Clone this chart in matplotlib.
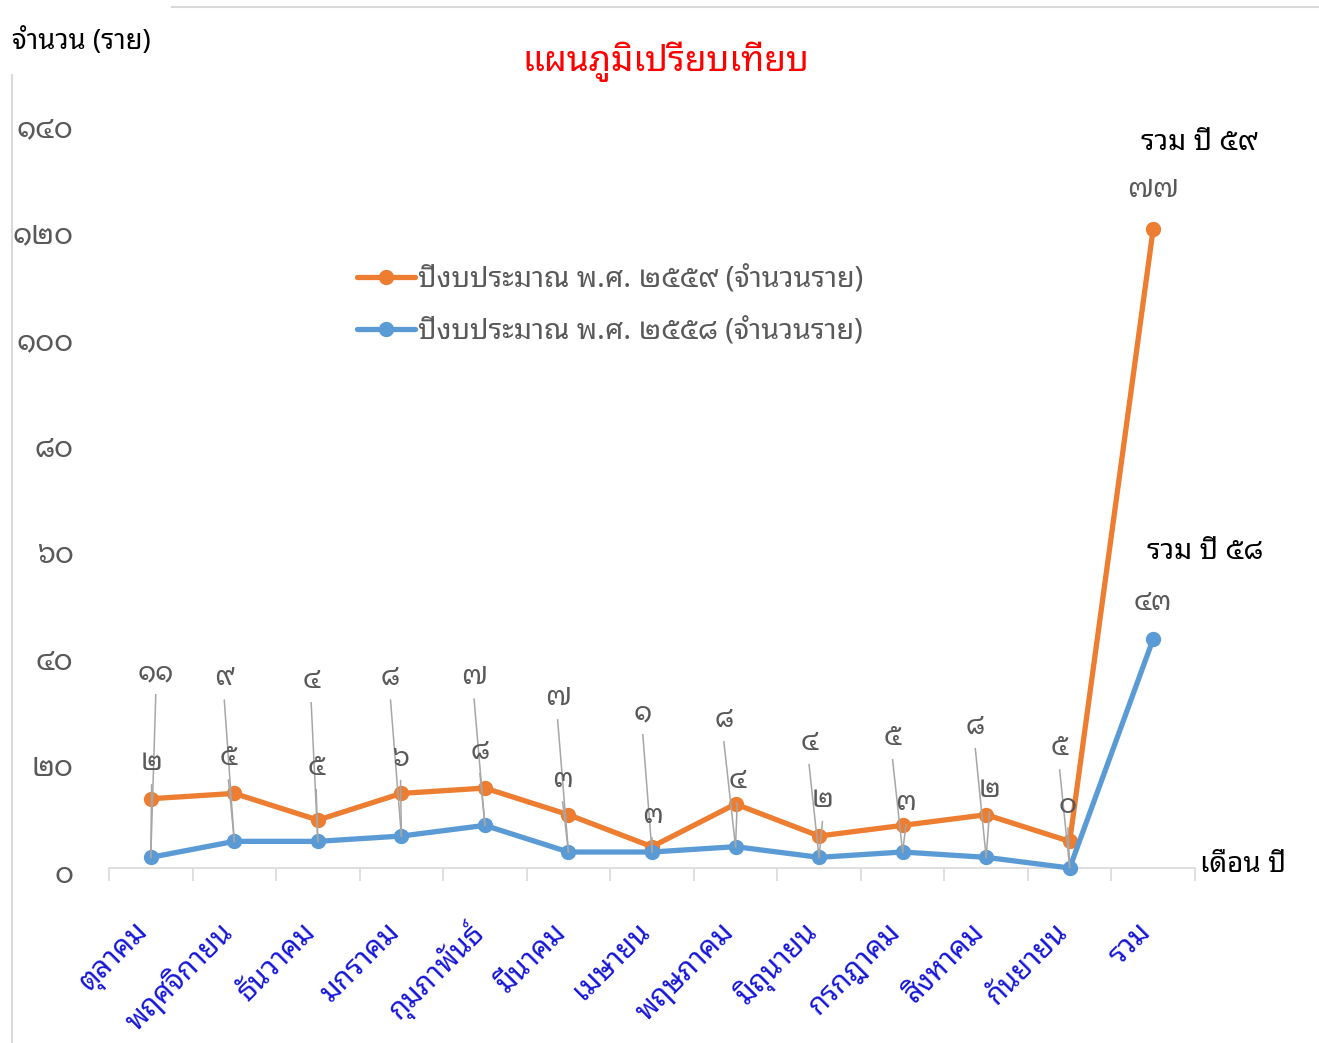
import matplotlib
matplotlib.use("Agg")
import matplotlib.pyplot as plt
from matplotlib import font_manager as fm
from matplotlib.ft2font import FT2Font
from matplotlib.lines import Line2D
from matplotlib.transforms import ScaledTranslation

# ---------------- data ----------------
categories = ["ตุลาคม", "พฤศจิกายน", "ธันวาคม", "มกราคม", "กุมภาพันธ์", "มีนาคม",
              "เมษายน", "พฤษภาคม", "มิถุนายน", "กรกฎาคม", "สิงหาคม", "กันยายน", "รวม"]
values_2559 = [11, 9, 4, 8, 7, 7, 1, 8, 4, 5, 8, 5, 77]
values_2558 = [2, 5, 5, 6, 8, 3, 3, 4, 2, 3, 2, 0, 43]
series_labels = ["ปีงบประมาณ พ.ศ. ๒๕๕๙ (จำนวนราย)", "ปีงบประมาณ พ.ศ. ๒๕๕๘ (จำนวนราย)"]
y_ticks = [0, 20, 40, 60, 80, 100, 120, 140]
title = "แผนภูมิเปรียบเทียบ"
y_title = "จำนวน (ราย)"
x_title = "เดือน ปี"
total_59_text = "รวม ปี ๕๙"
total_58_text = "รวม ปี ๕๘"

# label layout (category offset, data-unit height) -- layout only
lab59_dx = [0.06, -0.12, -0.08, -0.13, -0.13, -0.13, -0.11, -0.14, -0.12, -0.12, -0.13, -0.12, 0.0]
lab59_y = [36.6, 35.6, 35.1, 35.6, 35.8, 31.9, 29.1, 27.8, 23.5, 24.4, 26.5, 22.5, 127.2]
lab58_dx = [0.01, -0.07, -0.02, -0.01, -0.06, -0.07, 0.0, 0.02, 0.04, 0.04, 0.04, -0.02, 0.0]
lab58_y = [19.7, 20.6, 18.8, 20.5, 21.8, 16.5, 9.8, 16.3, 12.8, 12.2, 14.6, 11.6, 49.7]


def find_thai_font():
    prefs = ['Leelawadee UI', 'Leelawadee', 'Tahoma', 'Noto Sans Thai Looped',
             'Noto Sans Thai', 'Noto Sans Thai UI', 'Sarabun', 'Loma', 'Garuda',
             'Kinnari', 'Umpush', 'Waree', 'Norasi', 'Noto Serif Thai', 'Laksaman', 'Tlwg Typo']
    found = {}
    for f in fm.fontManager.ttflist:
        try:
            cm = FT2Font(f.fname).get_charmap()
            if 0x0E08 in cm and 0x0E54 in cm:
                found.setdefault(f.name, f.fname)
        except Exception:
            pass
    for p in prefs:
        if p in found:
            return p
    if found:
        return sorted(found)[0]
    return None


thai = find_thai_font()
fams = ([thai] if thai else []) + ['DejaVu Sans']
plt.rcParams['font.family'] = fams

TH_DIGITS = str.maketrans("0123456789", "๐๑๒๓๔๕๖๗๘๙")


def th(n):
    return str(n).translate(TH_DIGITS)


W, H = 1319, 1043
fig = plt.figure(figsize=(W / 100, H / 100), dpi=100)
fig.patch.set_facecolor("white")


def fx(px):
    return px / W


def fy(py):
    return 1 - py / H


ax = fig.add_axes([fx(109), fy(868), fx(1195) - fx(109), fy(122) - fy(868)])
ax.set_xlim(-0.5, len(categories) - 0.5)
ax.set_ylim(0, 140)

x = list(range(len(categories)))
stack_58 = list(values_2558)
stack_59 = [a + b for a, b in zip(values_2558, values_2559)]

ORANGE = "#ED7D31"
BLUE = "#5B9BD5"
GREY_TXT = "#595959"

l59, = ax.plot(x, stack_59, color=ORANGE, lw=3.8, marker="o", ms=10,
               solid_capstyle="round", zorder=3, clip_on=False)
l58, = ax.plot(x, stack_58, color=BLUE, lw=3.8, marker="o", ms=10,
               solid_capstyle="round", zorder=3, clip_on=False)

# data labels with leader lines
lead_off = 4.1
for i in x:
    ax.text(i + lab59_dx[i], lab59_y[i], th(values_2559[i]), ha="center", va="center",
            fontsize=20, color=GREY_TXT, zorder=5)
    ax.text(i + lab58_dx[i], lab58_y[i], th(values_2558[i]), ha="center", va="center",
            fontsize=20, color=GREY_TXT, zorder=5)
    if i < len(x) - 1:
        ax.plot([i + lab59_dx[i], i], [lab59_y[i] - lead_off, stack_58[i]],
                color="#A6A6A6", lw=1.1, zorder=4)
        ax.plot([i + lab58_dx[i], i], [lab58_y[i] - lead_off, stack_58[i]],
                color="#A6A6A6", lw=1.1, zorder=4)

# axes styling
for s in ["left", "top", "right"]:
    ax.spines[s].set_visible(False)
ax.spines["bottom"].set_color("#D9D9D9")
ax.spines["bottom"].set_linewidth(1.2)

ax.set_yticks(y_ticks)
ax.set_yticklabels([th(v) for v in y_ticks], fontsize=21, color=GREY_TXT)
ax.tick_params(axis="y", length=0, pad=25.5)
for lab in ax.get_yticklabels():
    lab.set_transform(lab.get_transform() + ScaledTranslation(0, -0.04, fig.dpi_scale_trans))

ax.set_xticks(x)
ax.set_xticklabels(categories, rotation=45, ha="right", va="center",
                   rotation_mode="anchor", fontsize=21, color="#1515D8")
ax.tick_params(axis="x", which="major", length=0, pad=43)
for lab in ax.get_xticklabels():
    lab.set_transform(lab.get_transform() + ScaledTranslation(-0.06, 0, fig.dpi_scale_trans))
ax.set_xticks([i - 0.5 for i in range(len(categories) + 1)], minor=True)
ax.tick_params(axis="x", which="minor", length=9, width=1.2, color="#D9D9D9", direction="out")

# legend
leg = fig.legend([l59, l58], series_labels, loc="center left",
                 bbox_to_anchor=(fx(357), fy(306)), frameon=False, fontsize=20.7,
                 handlelength=2.0, handletextpad=0.12, labelspacing=0.8,
                 borderaxespad=0, borderpad=0)
for t in leg.get_texts():
    t.set_color(GREY_TXT)

# titles / annotations
fig.text(fx(666), fy(62), title, ha="center", va="center", fontsize=25.5,
         color="#FF0000", fontweight="bold")
fig.text(fx(12), fy(42), y_title, ha="left", va="center", fontsize=19.7, color="black")
fig.text(fx(1243), fy(865), x_title, ha="center", va="center", fontsize=20, color="black")
fig.text(fx(1199), fy(143), total_59_text, ha="center", va="center", fontsize=20.5, color="black")
fig.text(fx(1205), fy(552), total_58_text, ha="center", va="center", fontsize=20.5, color="black")

# chart-area border fragments
fig.add_artist(Line2D([fx(172), fx(1319)], [fy(7), fy(7)], color="#D9D9D9", lw=1.5))
fig.add_artist(Line2D([fx(12), fx(12)], [fy(75), fy(1043)], color="#D9D9D9", lw=1.5))

fig.savefig("out.png", dpi=100, facecolor="white")
